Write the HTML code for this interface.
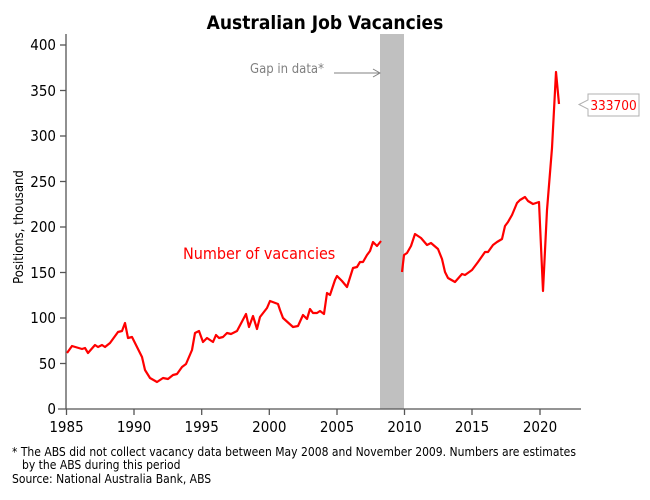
<!DOCTYPE html>
<html><head><meta charset="utf-8"><style>
body{margin:0;background:#fff;}
svg{display:block;font-family:"DejaVu Sans Condensed","Liberation Sans",sans-serif;}
</style></head><body>
<svg width="650" height="500" viewBox="0 0 650 500">
<rect width="650" height="500" fill="#fff"/>
<text x="325" y="29" text-anchor="middle" font-size="19" font-weight="bold" fill="#000">Australian Job Vacancies</text>
<rect x="380" y="34" width="24" height="375" fill="#c0c0c0"/>
<g stroke="#555" stroke-width="1.3" fill="none">
<line x1="66" y1="34" x2="66" y2="409"/>
<line x1="58" y1="409" x2="581" y2="409"/>
<line x1="60" y1="45" x2="66" y2="45"/><line x1="60" y1="90.5" x2="66" y2="90.5"/>
<line x1="60" y1="136" x2="66" y2="136"/><line x1="60" y1="181.5" x2="66" y2="181.5"/>
<line x1="60" y1="227" x2="66" y2="227"/><line x1="60" y1="272.5" x2="66" y2="272.5"/>
<line x1="60" y1="318" x2="66" y2="318"/><line x1="60" y1="363.5" x2="66" y2="363.5"/>
<line x1="66.5" y1="409" x2="66.5" y2="415"/><line x1="134" y1="409" x2="134" y2="415"/>
<line x1="201.7" y1="409" x2="201.7" y2="415"/><line x1="269.3" y1="409" x2="269.3" y2="415"/>
<line x1="337" y1="409" x2="337" y2="415"/><line x1="404.5" y1="409" x2="404.5" y2="415"/>
<line x1="472" y1="409" x2="472" y2="415"/><line x1="540" y1="409" x2="540" y2="415"/>
</g>
<g font-size="15" fill="#000" text-anchor="end">
<text x="56" y="50">400</text><text x="56" y="96">350</text><text x="56" y="141">300</text>
<text x="56" y="187">250</text><text x="56" y="232">200</text><text x="56" y="278">150</text>
<text x="56" y="323">100</text><text x="56" y="369">50</text><text x="56" y="414">0</text>
</g>
<g font-size="15" fill="#000" text-anchor="middle">
<text x="66.5" y="432">1985</text><text x="134" y="432">1990</text><text x="201.7" y="432">1995</text>
<text x="269.3" y="432">2000</text><text x="337" y="432">2005</text><text x="404.5" y="432">2010</text>
<text x="472" y="432">2015</text><text x="540" y="432">2020</text>
</g>
<text transform="translate(23,227) rotate(-90)" text-anchor="middle" font-size="13" fill="#000">Positions, thousand</text>
<text x="250" y="73" font-size="13" fill="#808080">Gap in data*</text>
<line x1="334" y1="73" x2="380" y2="73" stroke="#808080" stroke-width="1"/>
<polyline points="373,69 380,73 373,77" fill="none" stroke="#808080" stroke-width="1"/>
<text x="183" y="259" font-size="16" fill="#f00">Number of vacancies</text>
<polyline fill="none" stroke="#f00" stroke-width="2.2" stroke-linejoin="round" points="67,353 72,346 82,349 85,348 88,353 95,345 98,347 102,345 105,347 110,343 118,332 122,331 125,323 128,338 132,337 142,357 145,370 150,378 157,382 163,378 168,379 173,375 177,374 182,367 186,364 192,350 195,333 199,331 203,342 207,338 213,342 216,335 219,338 223,337 227,333 231,334 237,331 246,314 249,327 253,316 257,329 260,317 267,308 270,301 278,304 280,310 283,318 293,327 298,326 303,315 307,319 310,309 313,313 317,313 320,311 324,314 327,293 330,295 335,280 337,276 342,281 347,287 353,268 357,267 360,262 363,262 367,255 370,251 373,242 377,246 381,241"/>
<polyline fill="none" stroke="#f00" stroke-width="2.2" stroke-linejoin="round" points="402,272 404,255 407,253 411,246 415,234 421,238 427,245 431,243 438,249 442,259 445,272 448,278 455,282 462,274 465,275 472,270 478,262 485,252 488,252 493,245 497,242 502,239 505,226 508,222 512,215 517,203 520,200 525,197 528,201 533,204 539,202 543,291 547,210 552,148 556,72 559,104"/>
<path d="M588,94 H639 V116 H588 V109 L579,104.5 L588,100 Z" fill="#fff" stroke="#b0b0b0" stroke-width="1"/>
<text x="613.5" y="110" text-anchor="middle" font-size="13.5" fill="#f00">333700</text>
<g font-size="12" fill="#000">
<text x="12" y="456">* The ABS did not collect vacancy data between May 2008 and November 2009. Numbers are estimates</text>
<text x="22" y="469">by the ABS during this period</text>
<text x="12" y="483">Source: National Australia Bank, ABS</text>
</g>
</svg>
</body></html>
